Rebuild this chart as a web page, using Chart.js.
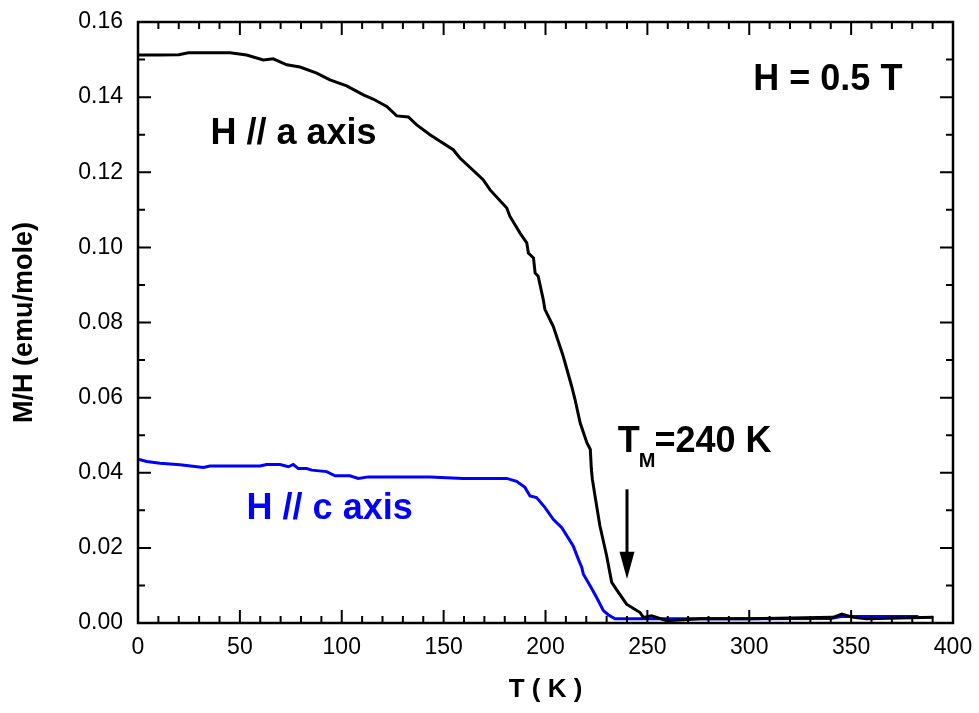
<!DOCTYPE html>
<html>
<head>
<meta charset="utf-8">
<script src="https://cdn.jsdelivr.net/npm/chart.js@4.4.1/dist/chart.umd.min.js"></script>
<style>
    html, body { margin: 0; padding: 0; background: #fff; }
</style>
</head>
<body>
<canvas id="mhChart" width="979" height="713"></canvas>
<script>
// H // a axis curve
const aT = [0, 10, 20, 24.7, 45.2, 53.3, 61.5, 66.4, 73.0, 79.5, 87.7, 94.2, 102.4, 110.6, 115.4, 122.1,
    127.0, 132.7, 136.8, 143.3, 154.7, 158.0, 169.4, 172.8, 181.0, 182.5, 187.5, 190.8, 191.6, 194.1,
    194.9, 196.4, 198.9, 199.7, 203.8, 208.7, 212.8, 214.5, 217.0, 220.3, 222.0, 222.5, 223.0, 224.3,
    226.7, 230.0, 232.5, 235.7, 239.8, 246.4, 248.0, 252.1, 259.5, 275.9, 300, 341.1, 345.4, 351.1,
    357.6, 390.3];
const aM = [0.1512, 0.1512, 0.1513, 0.1518, 0.1518, 0.1512, 0.1499, 0.1502, 0.1486, 0.1480, 0.1464,
    0.1446, 0.1430, 0.1406, 0.1395, 0.1375, 0.1350, 0.1347, 0.1326, 0.1300, 0.1260, 0.1238, 0.1180,
    0.1153, 0.1105, 0.1083, 0.1038, 0.1012, 0.0985, 0.0972, 0.0932, 0.0923, 0.0861, 0.0835, 0.0790,
    0.0710, 0.0631, 0.0595, 0.0533, 0.0480, 0.0462, 0.0410, 0.0383, 0.0338, 0.0259, 0.0179, 0.0108,
    0.0082, 0.0050, 0.0028, 0.0015, 0.0019, 0.0006, 0.0011, 0.0011, 0.0015, 0.0024, 0.0015, 0.0011,
    0.0015];

// H // c axis curve
const cT = [0, 4.3, 10.8, 20.6, 32.1, 35.3, 59.9, 63.1, 69.7, 73.8, 76.2, 78.7, 82.8, 85.3, 92.6, 96.7,
    104.0, 108.1, 113.1, 143.3, 159.6, 181.0, 185.8, 189.9, 192.4, 195.6, 199.7, 203.8, 208.0, 213.6,
    216.1, 217.8, 218.6, 221.9, 225.1, 228.4, 230.8, 234.1, 246.4, 300, 340, 345, 383];
const cM = [0.0436, 0.0430, 0.0425, 0.0421, 0.0414, 0.0418, 0.0418, 0.0422, 0.0422, 0.0416, 0.0422,
    0.0411, 0.0411, 0.0407, 0.0403, 0.0392, 0.0392, 0.0385, 0.0389, 0.0389, 0.0385, 0.0385, 0.0377,
    0.0361, 0.0338, 0.0334, 0.0308, 0.0276, 0.0254, 0.0205, 0.0170, 0.0148, 0.0130, 0.0099, 0.0068,
    0.0033, 0.0022, 0.0011, 0.0011, 0.0011, 0.0012, 0.0017, 0.0017];

// Axis ranges
const xMin = 0, xMax = 400, xStep = 50, xMinor = 10;
const yMin = 0, yMax = 0.16, yStep = 0.02, yMinor = 0.01;

// Transition marker
const tM = 240;

const FONT = '"Liberation Sans", Arial, sans-serif';

function toPoints(xs, ys) {
    return xs.map((x, i) => ({ x: x, y: ys[i] }));
}

// Frame, inward ticks on all four sides, arrow and labels
const framePlugin = {
    id: 'frame',
    afterDraw(chart) {
        const { ctx, chartArea: a, scales: { x, y } } = chart;
        ctx.save();
        ctx.strokeStyle = '#000';
        ctx.lineWidth = 2.5;
        ctx.strokeRect(a.left, a.top, a.right - a.left, a.bottom - a.top);

        ctx.lineWidth = 2;
        ctx.beginPath();
        const nx = Math.round((xMax - xMin) / xMinor);
        for (let i = 0; i <= nx; i++) {
            const v = xMin + i * xMinor;
            const len = (v % xStep === 0) ? 13 : 7;
            const px = x.getPixelForValue(v);
            ctx.moveTo(px, a.bottom); ctx.lineTo(px, a.bottom - len);
            ctx.moveTo(px, a.top); ctx.lineTo(px, a.top + len);
        }
        const ny = Math.round((yMax - yMin) / yMinor);
        for (let i = 0; i <= ny; i++) {
            const v = yMin + i * yMinor;
            const len = (i % 2 === 0) ? 13 : 7;
            const py = y.getPixelForValue(v);
            ctx.moveTo(a.left, py); ctx.lineTo(a.left + len, py);
            ctx.moveTo(a.right, py); ctx.lineTo(a.right - len, py);
        }
        ctx.stroke();

        // arrow at T_M
        const ax = x.getPixelForValue(tM);
        const y0 = y.getPixelForValue(0.0356);
        const y1 = y.getPixelForValue(0.0190);
        const y2 = y.getPixelForValue(0.0117);
        ctx.lineWidth = 3;
        ctx.beginPath();
        ctx.moveTo(ax, y0); ctx.lineTo(ax, y1 + 2);
        ctx.stroke();
        ctx.fillStyle = '#000';
        ctx.beginPath();
        ctx.moveTo(ax - 7.5, y1); ctx.lineTo(ax + 7.5, y1); ctx.lineTo(ax, y2);
        ctx.closePath();
        ctx.fill();

        // text labels
        ctx.textBaseline = 'alphabetic';
        ctx.textAlign = 'left';
        ctx.font = 'bold 36px ' + FONT;
        ctx.fillStyle = '#000';
        ctx.fillText('H // a axis', x.getPixelForValue(35.6), y.getPixelForValue(0.1276));
        ctx.fillText('H = 0.5 T', x.getPixelForValue(302), y.getPixelForValue(0.1419));
        ctx.fillStyle = '#0000ff';
        ctx.fillText('H // c axis', x.getPixelForValue(53.3), y.getPixelForValue(0.0276));

        ctx.fillStyle = '#000';
        const tx = x.getPixelForValue(235.5);
        const ty = y.getPixelForValue(0.0454);
        ctx.fillText('T', tx, ty);
        const tw = ctx.measureText('T').width;
        ctx.font = 'bold 20px ' + FONT;
        ctx.fillText('M', tx + tw - 1, ty + 15);
        const mw = ctx.measureText('M').width;
        ctx.font = 'bold 36px ' + FONT;
        ctx.fillText('=240 K', tx + tw + mw - 2, ty);
        ctx.restore();
    }
};

const ctx = document.getElementById('mhChart').getContext('2d');

new Chart(ctx, {
    type: 'line',
    data: {
        datasets: [
            {
                label: 'H // a axis',
                data: toPoints(aT, aM),
                borderColor: '#000000',
                borderWidth: 3,
                pointRadius: 0,
                tension: 0,
                fill: false
            },
            {
                label: 'H // c axis',
                data: toPoints(cT, cM),
                borderColor: '#0000ff',
                borderWidth: 3,
                pointRadius: 0,
                tension: 0,
                fill: false
            }
        ]
    },
    options: {
        responsive: false,
        animation: false,
        layout: { padding: { left: 0, right: 26, top: 22, bottom: 0 } },
        plugins: {
            legend: { display: false },
            tooltip: { enabled: false }
        },
        scales: {
            x: {
                type: 'linear',
                min: xMin,
                max: xMax,
                grid: { display: false, drawTicks: false },
                border: { display: false },
                ticks: {
                    stepSize: xStep,
                    autoSkip: false,
                    maxRotation: 0,
                    padding: 11,
                    color: '#000',
                    font: { family: FONT, size: 23 }
                },
                title: {
                    display: true,
                    text: 'T ( K )',
                    color: '#000',
                    padding: { top: 0, bottom: 8 },
                    font: { family: FONT, size: 26, weight: 'bold' }
                },
                afterFit(scale) {
                    scale.height = 90;
                    scale.paddingLeft = 0;
                    scale.paddingRight = 0;
                }
            },
            y: {
                type: 'linear',
                min: yMin,
                max: yMax,
                grid: { display: false, drawTicks: false },
                border: { display: false },
                ticks: {
                    stepSize: yStep,
                    padding: 15,
                    color: '#000',
                    font: { family: FONT, size: 23 },
                    callback: function(value) { return Number(value).toFixed(2); }
                },
                title: {
                    display: true,
                    text: 'M/H (emu/mole)',
                    color: '#000',
                    padding: { top: 8, bottom: 0 },
                    font: { family: FONT, size: 27, weight: 'bold' }
                },
                afterFit(scale) {
                    scale.width = 138;
                    scale.paddingTop = 0;
                    scale.paddingBottom = 0;
                }
            }
        }
    },
    plugins: [framePlugin]
});
</script>
</body>
</html>
